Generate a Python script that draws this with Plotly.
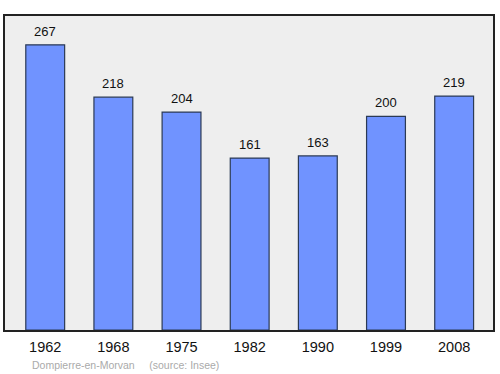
import plotly.graph_objects as go

years = ["1962", "1968", "1975", "1982", "1990", "1999", "2008"]
population = [267, 218, 204, 161, 163, 200, 219]
commune = "Dompierre-en-Morvan"
source = "(source: Insee)"

FONT = "Liberation Sans, Arial, sans-serif"

fig = go.Figure()
fig.add_trace(go.Bar(
    x=years, y=population,
    marker=dict(color="#7093ff", line=dict(color="#2b3a55", width=1.2)),
    width=0.57,
    hoverinfo="skip",
))
for i, v in enumerate(population):
    fig.add_annotation(x=i, y=v, xref="x", yref="y", text=str(v), showarrow=False,
                       yanchor="bottom", yshift=4,
                       font=dict(family=FONT, size=13, color="#111"))

fig.add_annotation(x=25 / 490, y=-43 / 314, xref="paper", yref="paper",
                   xanchor="left", yanchor="bottom",
                   text=commune + "&nbsp;&nbsp;&nbsp;&nbsp;&nbsp;" + source, showarrow=False,
                   font=dict(family=FONT, size=10.5, color="#aaaaaa"))

fig.update_layout(
    width=500, height=374,
    margin=dict(l=5, r=5, t=16, b=44),
    paper_bgcolor="white", plot_bgcolor="#eeeeee",
    showlegend=False,
    xaxis=dict(type="category", range=[-0.59, 6.57], showgrid=False,
               ticks="outside", ticklen=3, tickcolor="rgba(0,0,0,0)",
               showline=True, linecolor="#222", linewidth=1.5, mirror=True,
               tickfont=dict(family=FONT, size=14.5, color="#111")),
    yaxis=dict(range=[0, 294], showgrid=False, showticklabels=False, ticks="", zeroline=False,
               showline=True, linecolor="#222", linewidth=1.5, mirror=True),
)
fig.write_html("out.html")
